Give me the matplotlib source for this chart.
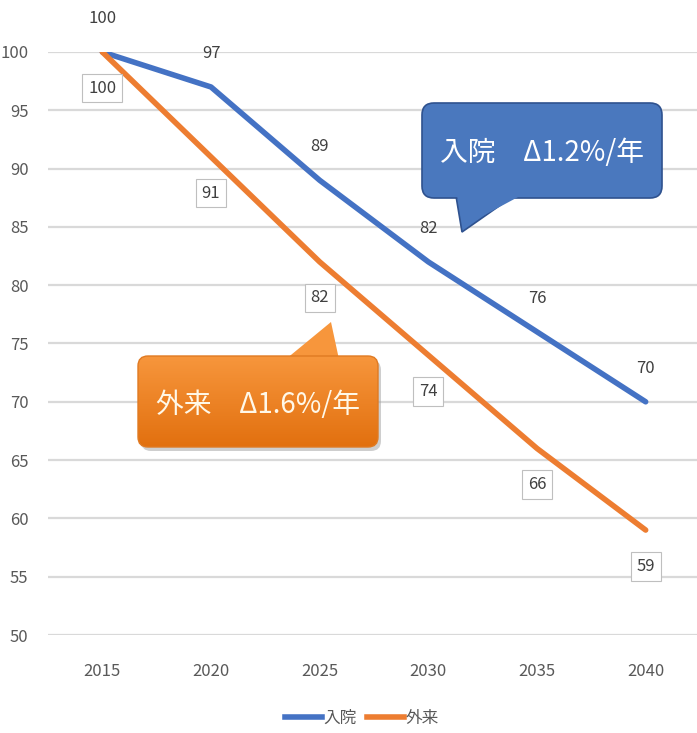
import numpy as np
import matplotlib.pyplot as plt
from matplotlib.patches import FancyBboxPatch, Polygon
from matplotlib.lines import Line2D

# ------------------------------------------
# データ
# ------------------------------------------
years = ["2015", "2020", "2025", "2030", "2035", "2040"]
nyuin = [100, 97, 89, 82, 76, 70]
gairai = [100, 91, 82, 74, 66, 59]
y_ticks = [50, 55, 60, 65, 70, 75, 80, 85, 90, 95, 100]

BLUE = "#4472C4"
ORANGE = "#ED7D31"
GREY = "#595959"
NARROW = ["Liberation Sans Narrow", "Noto Sans CJK JP", "DejaVu Sans"]
JP = ["Noto Sans CJK JP", "DejaVu Sans"]

W, H = 697, 733
fig = plt.figure(figsize=(W / 100, H / 100), dpi=100)
fig.patch.set_facecolor("white")

# 本体のグラフ (ピクセル指定で配置)
left, right, top, bottom = 48, 700, 52, 635
ax = fig.add_axes([left / W, 1 - bottom / H, (right - left) / W, (bottom - top) / H])
x = np.arange(len(years))

ax.set_xlim(-0.5, len(years) - 0.5)
ax.set_ylim(50, 100)
ax.set_yticks(y_ticks)
ax.set_xticks(x)
ax.set_xticklabels(years)
ax.grid(axis="y", color="#D9D9D9", linewidth=1.6)
ax.set_axisbelow(True)
for s in ax.spines.values():
    s.set_visible(False)
ax.tick_params(length=0, colors=GREY, labelsize=12, pad=14)
ax.tick_params(axis="x", pad=20)
for lab in ax.get_xticklabels() + ax.get_yticklabels():
    lab.set_family(NARROW)

ax.plot(x, nyuin, color=BLUE, linewidth=4, solid_capstyle="round", zorder=3)
ax.plot(x, gairai, color=ORANGE, linewidth=4, solid_capstyle="round", zorder=4)

# 入院: 点の上にラベル
for xi, v in zip(x, nyuin):
    ax.annotate(str(v), (xi, v), xytext=(0, 24), textcoords="offset points",
                ha="center", va="center", fontsize=12, color="#404040",
                family=NARROW, clip_on=False, zorder=6)

# 外来: 枠付きラベルを点の下に
for xi, v in zip(x, gairai):
    ax.annotate(str(v), (xi, v), xytext=(0, -26), textcoords="offset points",
                ha="center", va="center", fontsize=12, color="#404040",
                family=NARROW, clip_on=False, zorder=6,
                bbox=dict(boxstyle="square,pad=0.35", fc="white", ec="#BFBFBF", lw=0.8))

# ------------------------------------------
# 吹き出し (全体を覆う透明な座標系にピクセルで描く)
# ------------------------------------------
ov = fig.add_axes([0, 0, 1, 1])
ov.set_xlim(0, W)
ov.set_ylim(H, 0)
ov.axis("off")
ov.patch.set_alpha(0)

# 入院の吹き出し
ov.add_patch(Polygon([(455, 190), (522, 190), (462, 232)], closed=True,
                     fc="#4A78BE", ec="#2F528F", lw=1.2, zorder=2))
ov.add_patch(FancyBboxPatch((422, 103), 240, 95,
                            boxstyle="round,pad=0,rounding_size=12",
                            fc="#4A78BE", ec="#2F528F", lw=1.2, zorder=3))
ov.add_patch(Polygon([(457, 196), (520, 196), (464, 226)], closed=True,
                     fc="#4A78BE", ec="none", zorder=4))
ov.text(542, 153, "入院　Δ1.2%/年", ha="center", va="center", color="white",
        fontsize=20, family=JP, zorder=5)

# 外来の吹き出し (影 + グラデーション)
ov.add_patch(FancyBboxPatch((141, 360), 240, 91,
                            boxstyle="round,pad=0,rounding_size=10",
                            fc="#9E9E9E", ec="none", alpha=0.5, zorder=2))
ov.add_patch(Polygon([(280, 364), (340, 364), (331, 322)], closed=True,
                     fc="#F7963C", ec="none", zorder=3))
body = FancyBboxPatch((138, 356), 240, 91,
                      boxstyle="round,pad=0,rounding_size=10",
                      fc="none", ec="#E07A22", lw=1.0, zorder=4)
ov.add_patch(body)
grad = np.linspace(0, 1, 100).reshape(-1, 1)
im = ov.imshow(grad, extent=(138, 378, 447, 356), cmap=plt.matplotlib.colors.LinearSegmentedColormap.from_list(
    "og", ["#F7963C", "#E2700F"]), aspect="auto", zorder=3.5)
im.set_clip_path(body)
ov.set_xlim(0, W)
ov.set_ylim(H, 0)
ov.text(258, 405, "外来　Δ1.6%/年", ha="center", va="center", color="#FFF8E8",
        fontsize=20, family=JP, zorder=5)

# 凡例
handles = [Line2D([], [], color=BLUE, lw=4), Line2D([], [], color=ORANGE, lw=4)]
leg = fig.legend(handles, ["入院", "外来"], loc="center", bbox_to_anchor=(362 / W, 1 - 718 / H),
                 ncol=2, frameon=False, fontsize=12, handlelength=2.2, handletextpad=0.1,
                 columnspacing=0.6, prop={"family": NARROW, "size": 12})
for t in leg.get_texts():
    t.set_color(GREY)

fig.savefig("out.png", dpi=100, facecolor="white")
